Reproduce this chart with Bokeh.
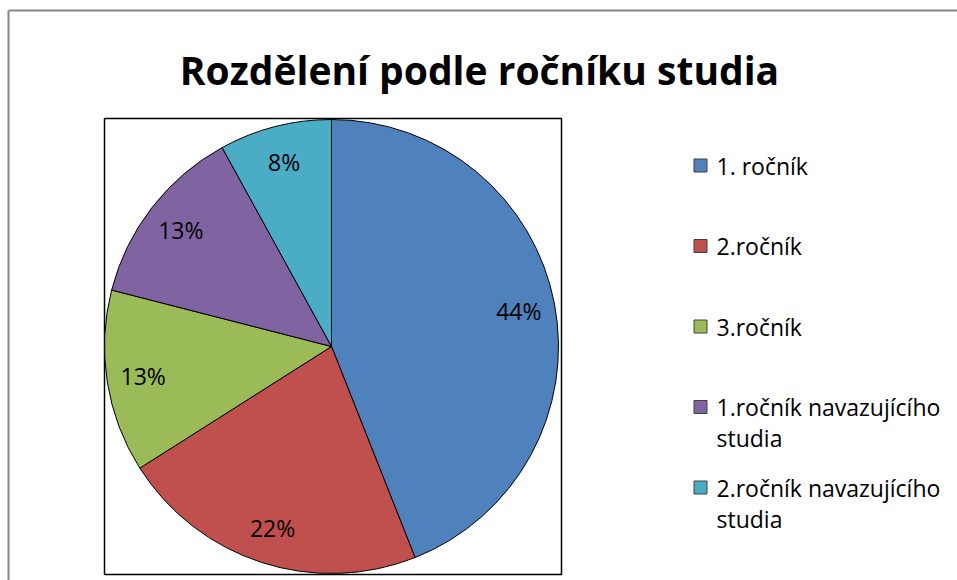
import math
import textwrap
import numpy as np
from bokeh.plotting import figure
from bokeh.models import ColumnDataSource, Range1d
from bokeh.core.properties import value
from bokeh.embed import file_html
from bokeh.resources import INLINE

# ---- data ----
title = "Rozdělení podle ročníku studia"
categories = ["1. ročník", "2.ročník", "3.ročník",
              "1.ročník navazujícího studia", "2.ročník navazujícího studia"]
shares = [44, 22, 13, 13, 8]
colors = ["#4F81BD", "#C0504D", "#9BBB59", "#8064A2", "#4BACC6"]

# ---- layout (pixels, y measured from top) ----
W, H = 957, 580
FONT = "Open Sans"
cx, cy, R = 331, 346, 227


def Y(px):
    return H - px


p = figure(width=W, height=H, output_backend="svg", toolbar_location=None,
           x_range=Range1d(0, W), y_range=Range1d(0, H),
           x_axis_location=None, y_axis_location=None, min_border=0)
p.grid.visible = False
p.outline_line_color = None
p.background_fill_color = "white"
p.border_fill_color = "white"

# outer chart border (left and top visible)
p.multi_line(xs=[[8, 8], [8, W + 5]], ys=[[Y(H + 5), Y(10)], [Y(10), Y(10)]],
             line_color="#868686", line_width=2)

# plot-area box
p.quad(left=[104], right=[561], top=[Y(118)], bottom=[Y(574)],
       fill_color=None, line_color="black", line_width=1.5)

# pie
vals = np.array(shares, dtype=float)
frac = vals / vals.sum()
cum = np.concatenate([[0], np.cumsum(frac)])
start = math.pi / 2 - 2 * math.pi * cum[:-1]
end = math.pi / 2 - 2 * math.pi * cum[1:]
mid = (start + end) / 2
lr = 0.84 * R
src = ColumnDataSource(dict(
    start=start, end=end, color=colors,
    lx=cx + lr * np.cos(mid), ly=Y(cy) + lr * np.sin(mid),
    lbl=[f"{round(f * 100)}%" for f in frac],
))
p.wedge(x=cx, y=Y(cy), radius=R, start_angle="start", end_angle="end",
        direction="clock", fill_color="color", line_color="black",
        line_width=1, source=src)
p.text(x="lx", y="ly", text="lbl", source=src, text_font=value(FONT),
       text_font_size="23px", text_color="black",
       text_align="center", text_baseline="middle")

# title
p.text(x=[479], y=[Y(69)], text=[title], text_font=value(FONT),
       text_font_style="bold", text_font_size="39px", text_color="black",
       text_align="center", text_baseline="middle")

# legend
leg_y = [165 + 80.5 * i for i in range(len(categories))]
p.rect(x=[700] * len(categories), y=[Y(v) for v in leg_y], width=13, height=13,
       fill_color=colors, line_color="#404040", line_width=1)
tx, ty, tt = [], [], []
for lab, yy in zip(categories, leg_y):
    for j, line in enumerate(textwrap.wrap(lab, 22)):
        tx.append(716)
        ty.append(Y(yy + 31 * j))
        tt.append(line)
p.text(x=tx, y=ty, text=tt, text_font=value(FONT), text_font_size="23px",
       text_color="black", text_align="left", text_baseline="middle")

open("out.html", "w").write(file_html(p, INLINE))
